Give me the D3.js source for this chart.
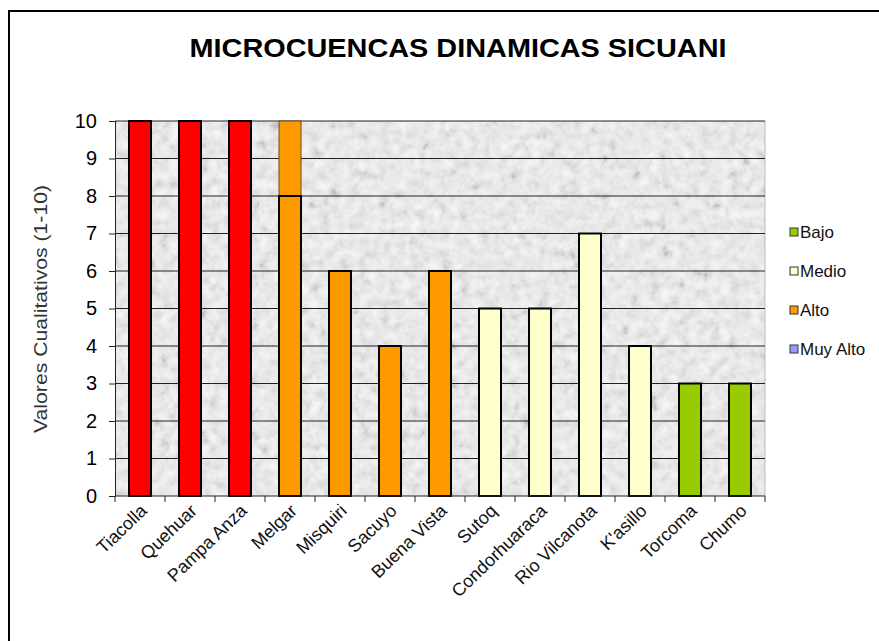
<!DOCTYPE html>
<html>
<head>
<meta charset="utf-8">
<script src="https://cdn.jsdelivr.net/npm/d3@7"></script>
<style>
  body { margin: 0; background: #fff; }
  text { font-family: Arial, "Liberation Sans", sans-serif; }
</style>
</head>
<body>
<div id="chart"></div>
<script>
// microcuencas sicuani - bar chart, levels coloured by class
const categories = ["Tiacolla", "Quehuar", "Pampa Anza", "Melgar", "Misquiri", "Sacuyo", "Buena Vista",
    "Sutoq", "Condorhuaraca", "Rio Vilcanota", "K'asillo", "Torcoma", "Chumo"];
const values = [10, 10, 10, 8, 6, 4, 6, 5, 5, 7, 4, 3, 3];
const extraTop = [0, 0, 0, 2, 0, 0, 0, 0, 0, 0, 0, 0, 0];   // Melgar upper segment
const levels = ["Muy", "Muy", "Muy", "Alto", "Alto", "Alto", "Alto",
    "Medio", "Medio", "Medio", "Medio", "Bajo", "Bajo"];
const legendNames = ["Bajo", "Medio", "Alto", "Muy Alto"];
const yTicks = [0, 1, 2, 3, 4, 5, 6, 7, 8, 9, 10];

const barColor = { "Muy": "#ff0000", "Alto": "#ff9900", "Medio": "#ffffcc", "Bajo": "#99cc00" };
const legendColor = { "Bajo": "#99cc00", "Medio": "#ffffcc", "Alto": "#ff9900", "Muy Alto": "#9999ff" };

const width = 879, height = 641;
const plot = { left: 115, right: 765, top: 121, bottom: 496 };

const svg = d3.select("#chart").append("svg")
    .attr("width", width)
    .attr("height", height);

// granite-ish texture for the plot area
const defs = svg.append("defs");
const f = defs.append("filter").attr("id", "noise")
    .attr("x", 0).attr("y", 0).attr("width", "100%").attr("height", "100%");
f.append("feTurbulence").attr("type", "fractalNoise")
    .attr("baseFrequency", 0.1).attr("numOctaves", 4).attr("seed", 7);
f.append("feColorMatrix").attr("type", "matrix")
    .attr("values", "0.8 0.8 0.8 0 -0.7  0.8 0.8 0.8 0 -0.7  0.8 0.8 0.8 0 -0.7  0 0 0 0 1");

// outer frame
svg.append("rect")
    .attr("x", 9).attr("y", 11)
    .attr("width", 900).attr("height", 700)
    .attr("fill", "#fff")
    .attr("stroke", "#000")
    .attr("stroke-width", 2);

svg.append("text")
    .attr("x", 458).attr("y", 57)
    .attr("text-anchor", "middle")
    .attr("textLength", 537)
    .attr("lengthAdjust", "spacingAndGlyphs")
    .style("font-size", "26px")
    .style("font-weight", "bold")
    .text("MICROCUENCAS DINAMICAS SICUANI");

const x = d3.scaleBand()
    .domain(categories)
    .range([plot.left, plot.right]);

const y = d3.scaleLinear()
    .domain([0, 10])
    .range([plot.bottom, plot.top]);

// plot background
svg.append("rect")
    .attr("x", plot.left).attr("y", plot.top)
    .attr("width", plot.right - plot.left).attr("height", plot.bottom - plot.top)
    .attr("fill", "#f4f4f4");
svg.append("rect")
    .attr("x", plot.left).attr("y", plot.top)
    .attr("width", plot.right - plot.left).attr("height", plot.bottom - plot.top)
    .attr("filter", "url(#noise)")
    .attr("opacity", 0.2);
svg.append("line")
    .attr("x1", plot.right).attr("x2", plot.right)
    .attr("y1", plot.top).attr("y2", plot.bottom)
    .attr("stroke", "#bbb");

// gridlines
svg.append("g")
    .selectAll("line")
    .data(yTicks.slice(1))
    .enter().append("line")
    .attr("x1", plot.left).attr("x2", plot.right)
    .attr("y1", d => y(d)).attr("y2", d => y(d))
    .attr("stroke", "#222")
    .attr("stroke-width", 1);

const barW = x.bandwidth() * 0.44;

svg.append("g")
    .selectAll("rect")
    .data(categories)
    .enter().append("rect")
    .filter((d, i) => extraTop[i] > 0)
    .attr("x", d => x(d) + (x.bandwidth() - barW) / 2)
    .attr("width", barW)
    .attr("y", d => { const i = categories.indexOf(d); return y(values[i] + extraTop[i]); })
    .attr("height", d => { const i = categories.indexOf(d); return y(values[i]) - y(values[i] + extraTop[i]); })
    .attr("fill", "#ff9900")
    .attr("stroke", "#6a4a20")
    .attr("stroke-width", 1);

svg.append("g")
    .selectAll("rect")
    .data(categories)
    .enter().append("rect")
    .attr("x", d => x(d) + (x.bandwidth() - barW) / 2)
    .attr("width", barW)
    .attr("y", (d, i) => y(values[i]))
    .attr("height", (d, i) => y(0) - y(values[i]))
    .attr("fill", (d, i) => barColor[levels[i]])
    .attr("stroke", "#000")
    .attr("stroke-width", 2);

// y axis
const yAxis = svg.append("g")
    .attr("transform", `translate(${plot.left},0)`)
    .call(d3.axisLeft(y).tickValues(yTicks).tickSize(6).tickPadding(12));
yAxis.select(".domain").attr("stroke", "#222");
yAxis.selectAll(".tick line").attr("stroke", "#222");
yAxis.selectAll("text")
    .style("font-size", "20px")
    .style("font-family", "Arial, 'Liberation Sans', sans-serif")
    .attr("fill", "#000");

// x axis: ticks at band boundaries
const xAxis = svg.append("g")
    .attr("transform", `translate(0,${plot.bottom})`);
xAxis.append("line")
    .attr("x1", plot.left).attr("x2", plot.right)
    .attr("stroke", "#222");
xAxis.selectAll(".bt")
    .data(categories.concat(["end"]))
    .enter().append("line")
    .attr("class", "bt")
    .attr("x1", (d, i) => i < categories.length ? x(d) : plot.right)
    .attr("x2", (d, i) => i < categories.length ? x(d) : plot.right)
    .attr("y1", 0).attr("y2", 6)
    .attr("stroke", "#222");
xAxis.selectAll("text")
    .data(categories)
    .enter().append("text")
    .attr("transform", d => `translate(${x(d) + x.bandwidth() / 2 + 8},${16}) rotate(-44)`)
    .attr("text-anchor", "end")
    .style("font-size", "18px")
    .attr("fill", "#111")
    .text(d => d);

svg.append("text")
    .attr("transform", `translate(47,309) rotate(-90)`)
    .attr("text-anchor", "middle")
    .attr("textLength", 248)
    .attr("lengthAdjust", "spacingAndGlyphs")
    .style("font-size", "19px")
    .attr("fill", "#333")
    .text("Valores Cualitativos (1-10)");

// legend
const legend = svg.append("g")
    .selectAll("g")
    .data(legendNames)
    .enter().append("g")
    .attr("transform", (d, i) => `translate(790,${228 + i * 39})`);
legend.append("rect")
    .attr("width", 8).attr("height", 8)
    .attr("fill", d => legendColor[d])
    .attr("stroke", "#333")
    .attr("stroke-width", 1);
legend.append("text")
    .attr("x", 10).attr("y", 10)
    .style("font-size", "17px")
    .attr("fill", "#111")
    .text(d => d);
</script>
</body>
</html>
